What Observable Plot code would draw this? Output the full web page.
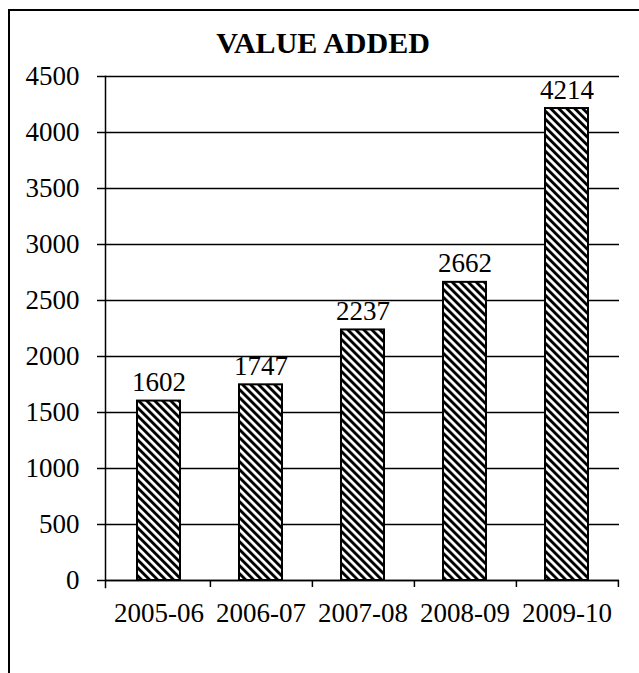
<!DOCTYPE html>
<html><head><meta charset="utf-8">
<script src="https://cdn.jsdelivr.net/npm/d3@7"></script>
<script src="https://cdn.jsdelivr.net/npm/@observablehq/plot@0.6"></script>
<style>
body{margin:0;background:#fff;}
#wrap{position:relative;width:639px;height:673px;overflow:hidden;background:#fff}
#frame{position:absolute;left:8px;top:9px;width:700px;height:700px;border-left:2px solid #000;border-top:2px solid #000;}
#title{position:absolute;left:9px;width:628px;top:25px;text-align:center;font:bold 30px "Liberation Serif";color:#000;line-height:36px}
#chart{position:absolute;left:0;top:0}
</style></head><body>
<div id="wrap"><div id="frame"></div><div id="title">VALUE ADDED</div><div id="chart"></div></div>
<script>
const years = ["2005-06", "2006-07", "2007-08", "2008-09", "2009-10"];
const values = [1602, 1747, 2237, 2662, 4214];
const yTicks = [0, 500, 1000, 1500, 2000, 2500, 3000, 3500, 4000, 4500];

const data = years.map((year, i) => ({year, value: values[i]}));

const W = 639, H = 673, ML = 105, MR = 20, MT = 76, MB = 93;
const step = (W - ML - MR) / years.length;

const plot = Plot.plot({
  width: W, height: H,
  marginLeft: ML, marginRight: MR, marginTop: MT, marginBottom: MB,
  style: {fontFamily: "'Liberation Serif', serif", fontSize: "27px", color: "#000", background: "transparent"},
  x: {domain: years, paddingInner: 0.58, paddingOuter: 0.29, label: null},
  y: {domain: [0, 4500], label: null},
  marks: [
    Plot.gridY(yTicks, {stroke: "#000", strokeOpacity: 1, strokeWidth: 1.5}),
    Plot.barY(data, {x: "year", y: "value", fill: "url(#hatch)", stroke: "#000", strokeWidth: 2}),
    Plot.frame({anchor: "left", stroke: "#000", strokeWidth: 1.5, insetBottom: -7}),
    Plot.ruleY([0], {stroke: "#000", strokeWidth: 1.5}),
    Plot.ruleX(years, {x: d => d, y1: 0, y2: 0, insetBottom: -7, dx: step / 2, stroke: "#000", strokeWidth: 1.5}),
    Plot.axisY(yTicks, {tickSize: 8, tickPadding: 18, fontSize: 27, tickFormat: d => String(d), stroke: "#000", strokeWidth: 1.5, label: null}),
    Plot.axisX({tickSize: 0, tickPadding: 22, fontSize: 27, label: null}),
    Plot.text(data, {x: "year", y: "value", text: d => String(d.value), lineAnchor: "bottom", dy: -10, fontSize: 27, fill: "#000"})
  ]
});

const ns = "http://www.w3.org/2000/svg";
const defs = document.createElementNS(ns, "defs");
defs.innerHTML = '<pattern id="hatch" patternUnits="userSpaceOnUse" width="5.66" height="5.66" patternTransform="rotate(-45)"><rect width="5.66" height="5.66" fill="#fff"/><rect width="2.9" height="5.66" fill="#000"/></pattern>';
plot.insertBefore(defs, plot.firstChild);
document.getElementById("chart").appendChild(plot);
</script>
</body></html>
